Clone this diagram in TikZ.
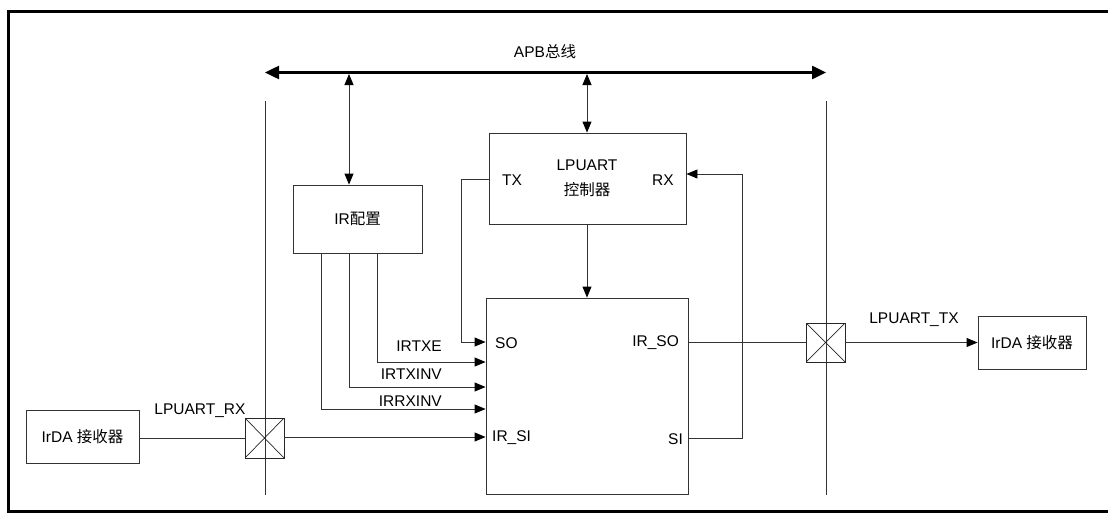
\documentclass[tikz,border=0pt]{standalone}
\usepackage{fontspec}
\setmainfont{Liberation Sans}
\newfontfamily\cjk{Noto Sans CJK SC}
\usetikzlibrary{arrows.meta,calc}
\begin{document}
\begin{tikzpicture}[x=1pt,y=-1pt,
  every node/.style={font=\fontsize{15.5}{18}\selectfont, inner sep=0pt},
  blk/.style={draw=black!80, line width=0.9pt, align=center},
  conn/.style={draw=black!80, line width=0.9pt},
  arr/.style={conn,-{Triangle[length=11pt,width=9pt,color=black]}},
  darr/.style={conn,{Triangle[length=11pt,width=9pt,color=black]}-{Triangle[length=11pt,width=9pt,color=black]}},
  xbox/.style={draw=black!85, line width=0.9pt, minimum width=39pt, minimum height=40pt,
    path picture={\draw[black!85,line width=0.7pt] (path picture bounding box.north west) -- (path picture bounding box.south east)
      (path picture bounding box.north east) -- (path picture bounding box.south west);}}
]
\useasboundingbox (0,0) rectangle (1108,514);
% outer frame
\draw[line width=3pt] (1110,11.5) -- (8.5,11.5) -- (8.5,511.5) -- (1110,511.5);

% bus
\coordinate (busL) at (265,72.5);
\coordinate (busR) at (826,72.5);
\draw[line width=2.5pt,{Triangle[length=14pt,width=13pt]}-{Triangle[length=14pt,width=13pt]}] (busL) -- (busR);
\node (apb) at (545,52) {APB{\cjk 总线}};

% vertical boundary lines
\coordinate (vLt) at (265,101);
\coordinate (vLb) at (265,495);
\coordinate (vRt) at (826,101);
\coordinate (vRb) at (826,495);
\draw[conn] (vLt) -- (vLb);
\draw[conn] (vRt) -- (vRb);

% blocks
\node[blk, minimum width=129pt, minimum height=68pt] (ir) at (357.5,219) {IR{\cjk 配置}};
\node[blk, minimum width=197pt, minimum height=91pt] (lp) at (587.5,178.5) {};
\node (lpt1) at (587,165) {LPUART};
\node (lpt2) at (587,190) {\cjk 控制器};
\node (tx) at (512,180) {TX};
\node (rx) at (663,180) {RX};
\node[blk, minimum width=202pt, minimum height=196pt] (main) at (587,396) {};
\node[anchor=west] (so) at (495,343) {SO};
\node[anchor=west] (irsi) at (492,438) {IR\_SI};
\node[anchor=east] (irso) at (679,343) {IR\_SO};
\node[anchor=east] (si) at (683,439) {SI};

\node[blk, minimum width=113pt, minimum height=53pt] (irdaL) at (82.5,436.5) {IrDA {\cjk 接收器}};
\node[blk, minimum width=108pt, minimum height=53pt] (irdaR) at (1032,342.5) {IrDA {\cjk 接收器}};

\node[xbox] (xL) at (264.5,438) {};
\node[xbox, minimum height=39pt] (xR) at (825.5,342.5) {};

% labels
\node (lrx) at (200,411) {LPUART\_RX};
\node (ltx) at (914,320) {LPUART\_TX};
\node[anchor=east] (lirtxe) at (442,346) {IRTXE};
\node[anchor=east] (lirtxinv) at (442,374) {IRTXINV};
\node[anchor=east] (lirrxinv) at (442,401) {IRRXINV};

% bus connections
\coordinate (b1) at (349,74);
\coordinate (b2) at (587,74);
\draw[darr] (b1) -- (b1 |- ir.north);
\draw[darr] (b2) -- (b2 |- lp.north);

% LPUART -> main
\draw[arr] (lp.south -| b2) -- (main.north -| b2);

% TX -> SO
\coordinate (t1) at (461,179);
\coordinate (t2) at (461,342);
\draw[arr] (t1 -| lp.west) -- (t1) -- (t2) -- (t2 -| main.west);

% SI -> RX
\coordinate (s1) at (742,438);
\coordinate (s2) at (742,174);
\draw[arr] (s1 -| main.east) -- (s1) -- (s2) -- (s2 -| lp.east);

% IR config lines
\coordinate (c1) at (377,362);
\coordinate (c2) at (349,387);
\coordinate (c3) at (321,409);
\draw[arr] (c1 |- ir.south) -- (c1) -- (c1 -| main.west);
\draw[arr] (c2 |- ir.south) -- (c2) -- (c2 -| main.west);
\draw[arr] (c3 |- ir.south) -- (c3) -- (c3 -| main.west);

% receive path
\draw[conn] (irdaL.east |- xL) -- (xL.west);
\coordinate (r1) at (300,437);
\draw[arr] (xL.east |- r1) -- (r1 -| main.west);

% transmit path
\draw[conn] (xR.west -| main.east) -- (xR.west);
\draw[arr] (xR.east) -- (irdaR.west);
\end{tikzpicture}
\end{document}
